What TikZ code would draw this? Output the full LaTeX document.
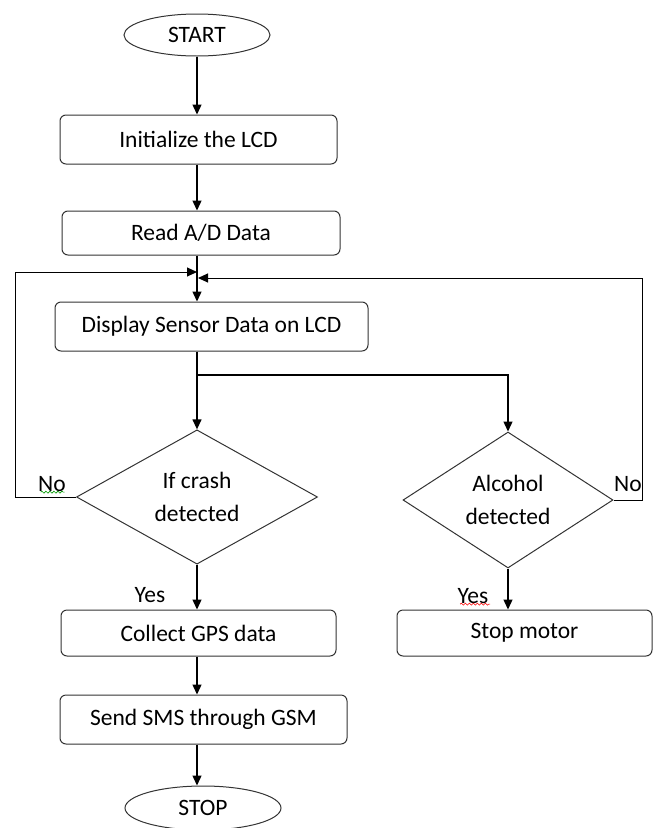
\documentclass[tikz,border=0pt]{standalone}
\usepackage{fontspec}
\setmainfont{Carlito}
\usetikzlibrary{
    arrows.meta, % for the filled arrow tips
    shapes.geometric, % ellipse and diamond
    decorations.pathmorphing % for the little wavy underlines
}

\begin{document}
\begin{tikzpicture}[
    x=1pt,y=-1pt,>={Triangle[length=10pt,width=9pt]},
    every node/.style   = {font=\fontsize{23.5}{33}\selectfont},
    terminal/.style     = {ellipse,draw=black!80,line width=1pt,inner sep=0pt},
    process/.style      = {rectangle,rounded corners=6pt,draw=black!80,line width=1pt,inner sep=0pt},
    decision/.style     = {diamond,draw=black!80,line width=1pt,inner sep=0pt,align=center},
    flow/.style         = {->,line width=1.3pt},
    squiggle/.style     = {decorate,decoration={snake,amplitude=1pt,segment length=4pt},line width=0.6pt}
]

\useasboundingbox (0,0) rectangle (655,828);

% main column

    \node [terminal,minimum width=146pt,minimum height=42pt] (start) at (197,35)    {START};
    \node [process,minimum width=277pt,minimum height=49pt]  (init)  at (198.5,139.5) {Initialize the LCD};
    \node [process,minimum width=278pt,minimum height=44pt]  (read)  at (201,233)   {Read A/D Data};
    \node [process,minimum width=313pt,minimum height=49pt]  (disp)  at (211.5,326.5) {Display Sensor Data on LCD};
    \node [decision,minimum width=241pt,minimum height=130pt] (crash) at (197,497) {If crash\\detected};
    \node [process,minimum width=275pt,minimum height=46pt]  (gps)   at (198.5,633) {Collect GPS data};
    \node [process,minimum width=287pt,minimum height=49pt]  (sms)   at (203.5,719.5) {Send SMS through GSM};
    \node [terminal,minimum width=156pt,minimum height=44pt] (stop)  at (203,808)   {STOP};

% alcohol branch

    \node [decision,minimum width=210pt,minimum height=136pt] (alc)   at (508,500) {Alcohol\\detected};
    \node [process,minimum width=255pt,minimum height=46pt]  (motor) at (524.5,633) {Stop motor};

% join and split points

    \coordinate (jl)    at (197,272);
    \coordinate (jr)    at (198,278);
    \coordinate (split) at (197,375);

% labels

    \node (nocrash)  at (52,484)  {No};
    \node (noalc)    at (628,484) {No};
    \node (yescrash) at (150,595) {Yes};
    \node (yesalc)   at (473,596) {Yes};

% connectors

    \draw [flow] (start) -- (start |- init.north);
    \draw [flow] (init.south -| start) -- (read.north -| start);
    \draw [flow] (read.south -| start) -- (disp.north -| start);
    \draw [flow] (disp.south -| start) -- (crash.north);
    \draw [flow] (split) -| (alc.north);
    \draw [flow] (crash.south) -- (crash.south |- gps.north);
    \draw [flow] (gps.south -| start) -- (sms.north -| start);
    \draw [flow] (sms.south -| start) -- (stop.north -| start);
    \draw [flow] (alc.south) -- (alc.south |- motor.north);

    \draw [flow,line width=1pt] (crash.west) -- ++(-61,0) |- (jl);
    \draw [flow,line width=1pt] (alc.east) -- ++(29,0) |- (jr);

    \draw [squiggle,green!60!black] (nocrash.south west) ++(6,-3) -- ++(24,0);
    \draw [squiggle,red] (yesalc.south west) ++(6,-3) -- ++(30,0);

\end{tikzpicture}
\end{document}
